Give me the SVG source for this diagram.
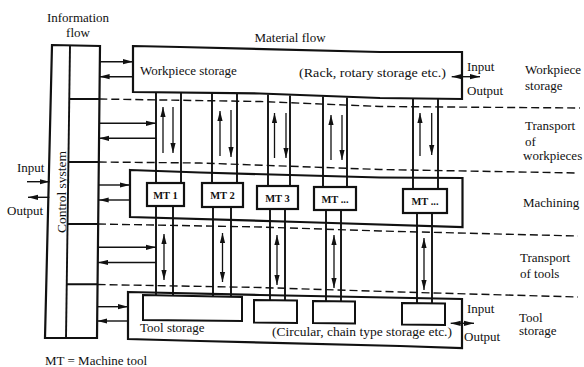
<svg xmlns="http://www.w3.org/2000/svg" width="584" height="367" viewBox="0 0 584 367">
<style>
  .box{fill:none;stroke:#111;stroke-width:2.2;stroke-linejoin:miter}
  .mt{fill:#fff;stroke:#111;stroke-width:2.2}
  .sbox{fill:none;stroke:#111;stroke-width:2}
  .vl{fill:none;stroke:#111;stroke-width:1.9}
  .thin{fill:none;stroke:#111;stroke-width:1.3}
  .ar{fill:none;stroke:#111;stroke-width:1.4;marker-end:url(#ah)}
  .ar2{fill:none;stroke:#111;stroke-width:1.4;marker-end:url(#ah);marker-start:url(#ah)}
  .dash{fill:none;stroke:#111;stroke-width:1.4;stroke-dasharray:8 4}
  text{font-family:"Liberation Serif","Times New Roman",serif;font-size:13px;fill:#111}
  .mtt{font-size:10.5px;font-weight:bold;text-anchor:middle}
  .mid{text-anchor:middle}
</style>
<defs>
  <marker id="ah" markerUnits="userSpaceOnUse" markerWidth="10" markerHeight="6" refX="10" refY="3" orient="auto-start-reverse">
    <path d="M0,0.4 L10,3 L0,5.6 Z" fill="#111"/>
  </marker>
</defs>
<rect width="584" height="367" fill="#fff"/>

<g id="control-system">
  <path class="box" d="M52,45 L100,46 L97,338 L45,338 Z"/>
  <path class="vl" d="M70,46 L66,338"/>
  <path class="vl" d="M69.3,99 L99.3,99 M68.3,162 L98.7,162 M67.4,224 L98,224 M66.7,284.3 L97.6,284.3"/>
  <text transform="rotate(-90 66 192)" x="66" y="192" class="mid" style="font-size:13.5px">Control system</text>
</g>

<g id="workpiece-storage">
  <path class="box" d="M133,46 L180,47 L380,52 L462,52 L462,99 L380,98 L260,93.5 L133,92 Z"/>
  <text x="140" y="74.5">Workpiece storage</text>
  <text x="299" y="77" textLength="147" lengthAdjust="spacingAndGlyphs">(Rack, rotary storage etc.)</text>
</g>

<g id="machining">
  <path class="box" d="M130,170 L200,172.5 L380,177.5 L462.5,178 L462.5,227 L300,222 L130,217 Z"/>
</g>

<g id="tool-storage">
  <path class="box" d="M128,292 L260,295 L462,299 L462,348 L400,346 L200,341 L128,339 Z"/>
  <text x="140" y="332">Tool storage</text>
  <text x="272" y="336" textLength="180" lengthAdjust="spacingAndGlyphs">(Circular, chain type storage etc.)</text>
</g>

<g id="tool-magazines">
  <path class="sbox" d="M143,295 L242,297 L242,321 L143,320 Z"/>
  <path class="sbox" d="M254,300 L297,300.5 L297,323 L254,322.5 Z"/>
  <path class="sbox" d="M313,301 L355,301.5 L355,323.5 L313,323 Z"/>
  <path class="sbox" d="M402,303 L445,303.5 L445,325 L402,324.5 Z"/>
</g>

<g id="connectors">
  <!-- dashed level separators -->
  <path class="dash" d="M99.3,99 L260,101.5 L380,106.5 L580,108"/>
  <path class="dash" d="M98.7,162 L200,163 L380,169.5 L578,173"/>
  <path class="dash" d="M98,224 L260,227 L380,231 L578,236"/>
  <path class="dash" d="M97.6,284.5 L260,287.5 L400,292 L578,297"/>

  <!-- workpiece transport lines -->
  <path class="vl" d="M156,92.5 V183 M181,93 V183 M212,93 V183 M237,93.5 V183 M268,94.5 V186 M290,95.5 V186 M323,96.5 V187 M347,97.5 V187 M413,98 V189 M438,98.5 V189"/>
  <path class="thin" style="marker-end:url(#ah)" d="M163,153 V107"/>
  <path class="thin" style="marker-end:url(#ah)" d="M173,107 V153"/>
  <path class="thin" style="marker-end:url(#ah)" d="M220,156 V111"/>
  <path class="thin" style="marker-end:url(#ah)" d="M231,110 V157"/>
  <path class="thin" style="marker-end:url(#ah)" d="M274.5,158 V113"/>
  <path class="thin" style="marker-end:url(#ah)" d="M286,113 V158"/>
  <path class="thin" style="marker-end:url(#ah)" d="M331,160 V115"/>
  <path class="thin" style="marker-end:url(#ah)" d="M342,115 V160"/>
  <path class="thin" style="marker-end:url(#ah)" d="M420,156 V113"/>
  <path class="thin" style="marker-end:url(#ah)" d="M431.7,113 V155"/>

  <!-- tool transport lines -->
  <path class="vl" d="M156,206 V295 M173,206 V296 M213,207 V296.5 M231,207 V297 M270,209 V300 M285,209 V300 M326,210 V301 M341,210 V301 M417,213 V303 M432,213 V303"/>
  <path class="thin" style="marker-end:url(#ah);marker-start:url(#ah)" d="M164,234 V280"/>
  <path class="thin" style="marker-end:url(#ah);marker-start:url(#ah)" d="M222.5,233 V282"/>
  <path class="thin" style="marker-end:url(#ah);marker-start:url(#ah)" d="M277,235 V285"/>
  <path class="thin" style="marker-end:url(#ah);marker-start:url(#ah)" d="M334,235 V288"/>
  <path class="thin" style="marker-end:url(#ah);marker-start:url(#ah)" d="M424,238 V290"/>

  <!-- information flow arrows -->
  <path class="ar" d="M100,61.7 H133"/>
  <path class="ar" d="M133,76.7 H99.6"/>
  <path class="ar" d="M99.3,123.3 H156"/>
  <path class="ar" d="M156,138.3 H99"/>
  <path class="ar" d="M98.9,185 H130"/>
  <path class="ar" d="M130,200 H98.7"/>
  <path class="ar" d="M98.2,247.3 H156"/>
  <path class="ar" d="M156,262.5 H98"/>
  <path class="ar" d="M97.5,306.7 H128"/>
  <path class="ar" d="M128,321 H97.3"/>

  <!-- external input/output -->
  <path class="ar" d="M27,181.7 H49.5"/>
  <path class="ar" d="M49.3,197.3 H28"/>
  <path class="ar2" d="M451.7,76.7 H480"/>
  <path class="ar2" d="M450.7,323.3 H474"/>
</g>

<g id="mt1"><rect class="mt" x="147" y="183" width="37" height="23"/><text class="mtt" x="165.5" y="198.5">MT 1</text></g>
<g id="mt2"><rect class="mt" x="202" y="183" width="41" height="24"/><text class="mtt" x="222.5" y="199">MT 2</text></g>
<g id="mt3"><rect class="mt" x="257" y="186" width="41" height="23"/><text class="mtt" x="277.5" y="201.5">MT 3</text></g>
<g id="mt4"><rect class="mt" x="314" y="187" width="42" height="23"/><text class="mtt" x="335" y="202.5">MT ...</text></g>
<g id="mt5"><rect class="mt" x="403" y="189" width="44" height="24"/><text class="mtt" x="425" y="205">MT ...</text></g>

<g id="labels">
  <text class="mid" x="78" y="21.5">Information</text>
  <text class="mid" x="78" y="36.5">flow</text>
  <text class="mid" x="290" y="42">Material flow</text>
  <text x="17" y="172">Input</text>
  <text x="7" y="215">Output</text>
  <text x="467" y="71">Input</text>
  <text x="467" y="94.5">Output</text>
  <text x="467" y="313">Input</text>
  <text x="464" y="341">Output</text>
  <text x="525" y="74">Workpiece</text>
  <text x="525" y="89.5">storage</text>
  <text x="525" y="130">Transport</text>
  <text x="525" y="146">of</text>
  <text x="523" y="159.5">workpieces</text>
  <text x="523" y="207">Machining</text>
  <text x="520" y="262">Transport</text>
  <text x="520" y="278">of tools</text>
  <text x="519" y="321.5">Tool</text>
  <text x="519" y="335">storage</text>
  <text x="45" y="364.5">MT = Machine tool</text>
</g>
</svg>
